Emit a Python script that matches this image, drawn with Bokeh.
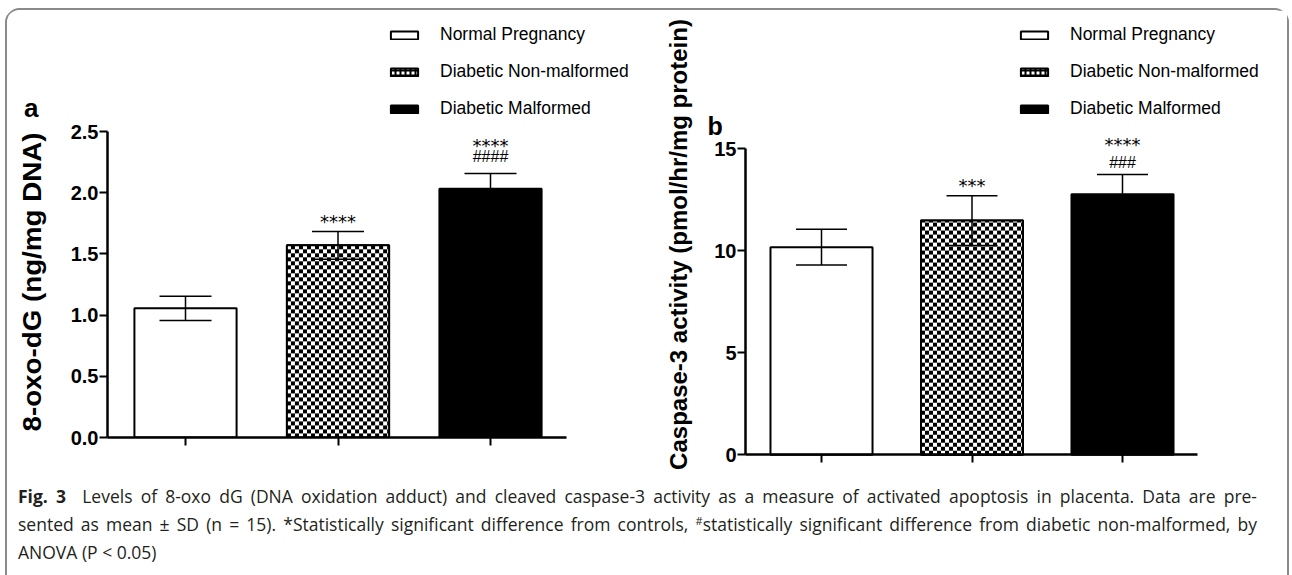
import numpy as np
from bokeh.plotting import figure
from bokeh.models import (ColumnDataSource, Range1d, FixedTicker, NumeralTickFormatter,
                          Whisker, TeeHead, Legend, LegendItem, Label, Div, Spacer)
from bokeh.layouts import row, column
from bokeh.core.properties import value
from bokeh.embed import file_html
from bokeh.resources import INLINE

# ---------------- data ----------------
groups = ["Normal Pregnancy", "Diabetic Non-malformed", "Diabetic Malformed"]

oxo_mean = [1.055, 1.57, 2.033]
oxo_sd = [0.10, 0.113, 0.123]
oxo_stars = ["", "****", "****"]
oxo_hashes = ["", "", "####"]
oxo_ticks = [0.0, 0.5, 1.0, 1.5, 2.0, 2.5]
oxo_label = "8-oxo-dG (ng/mg DNA)"

casp_mean = [10.17, 11.47, 12.76]
casp_sd = [0.87, 1.22, 0.97]
casp_stars = ["", "***", "****"]
casp_hashes = ["", "", "###"]
casp_ticks = [0, 5, 10, 15]
casp_label = "Caspase-3 activity (pmol/hr/mg protein)"

caption_lines = [
    "<b>Fig.&nbsp;3</b>&nbsp;&nbsp;Levels of 8-oxo dG (DNA oxidation adduct) and cleaved caspase-3 activity as a measure of activated apoptosis in placenta. Data are pre-",
    "sented as mean \u00b1 SD (n = 15). *Statistically significant difference from controls, "
    "<span style=\"position:relative;top:-6px;font-size:11px;\">#</span>statistically significant difference from diabetic non-malformed, by",
    "ANOVA (P &lt; 0.05)",
]

# ---------------- styles ----------------
fills = ["white", "white", "black"]
checkered = [False, True, False]
FONT = "Liberation Sans"
FIG_H = 472


def checker_image(nx, ny, cell=4):
    j = np.arange(nx)[None, :] // cell
    i = np.arange(ny)[:, None] // cell
    return np.where((i + j) % 2 == 0, 0xFF000000, 0xFFFFFFFF).astype(np.uint32)


def make_panel(width, border_left, border_right, border_bottom, x_range, y_range,
               px_x, px_y, y_axis_at, x_axis_at, x_axis_end,
               means, sds, ticks, tick_fmt, stars, hashes,
               star_gap, star_gap_stacked, hash_gap, legend_xy, bar_width, head, labels):
    p = figure(width=width, height=FIG_H,
               x_range=Range1d(*x_range), y_range=Range1d(*y_range),
               output_backend="svg", toolbar_location=None,
               min_border_left=border_left, min_border_right=border_right,
               min_border_top=2, min_border_bottom=border_bottom,
               outline_line_color=None, background_fill_color="white",
               border_fill_color="white")
    try:
        p.frame_align = False
    except Exception:
        pass
    p.grid.visible = False

    xs = list(range(1, len(groups) + 1))
    legend_renderers = []
    for i in range(len(groups)):
        src = ColumnDataSource(dict(x=[xs[i]], top=[means[i]]))
        kw = dict(fill_color=fills[i], line_color="black", line_width=2)
        if checkered[i]:
            kw.update(hatch_pattern="cross", hatch_color="black", hatch_scale=5,
                      hatch_weight=2, hatch_alpha=1.0)
        r = p.vbar(x="x", top="top", bottom=0, width=bar_width, source=src, **kw)
        legend_renderers.append(r)
        if checkered[i]:
            nx = int(round(bar_width * px_x))
            ny = int(round(means[i] * px_y))
            p.image_rgba(image=[checker_image(nx, ny)], x=xs[i] - bar_width / 2, y=0,
                         dw=bar_width, dh=means[i])
            p.vbar(x="x", top="top", bottom=0, width=bar_width, source=src,
                   fill_color=None, line_color="black", line_width=2)

    upper = [m + s for m, s in zip(means, sds)]
    lower = [m - s for m, s in zip(means, sds)]
    wsrc = ColumnDataSource(dict(x=xs, upper=upper, lower=lower))
    wh = Whisker(base="x", upper="upper", lower="lower", source=wsrc,
                 line_width=1.5, line_color="black", level="overlay",
                 upper_head=TeeHead(size=head, line_width=1.5, line_color="black"),
                 lower_head=TeeHead(size=head, line_width=1.5, line_color="black"))
    p.add_layout(wh)

    s_off = [-(star_gap_stacked if h else star_gap) for h in hashes]
    ssrc = ColumnDataSource(dict(x=xs, y=upper, t=stars, off=s_off))
    p.text(x="x", y="y", text="t", source=ssrc, y_offset="off",
           text_font=value("DejaVu Sans"), text_font_size="18px",
           text_align="center", text_baseline="middle", text_color="black")
    hsrc = ColumnDataSource(dict(x=xs, y=upper, t=hashes))
    p.text(x="x", y="y", text="t", source=hsrc, y_offset=-hash_gap,
           text_font=value(FONT), text_font_size="16px",
           text_align="center", text_baseline="middle", text_color="black")

    # y axis
    ya = p.yaxis[0]
    ya.ticker = FixedTicker(ticks=ticks)
    ya.formatter = NumeralTickFormatter(format=tick_fmt)
    ya.bounds = (ticks[0], ticks[-1])
    ya.axis_line_width = 2.5
    ya.major_tick_line_width = 2
    ya.major_tick_out = 8
    ya.major_tick_in = 0
    ya.minor_tick_line_color = None
    ya.major_label_text_font = FONT
    ya.major_label_text_font_style = "bold"
    ya.major_label_text_font_size = "20px"
    ya.major_label_text_color = "black"
    ya.major_label_standoff = 1
    if y_axis_at is not None:
        ya.fixed_location = y_axis_at

    # x axis
    xa = p.xaxis[0]
    xa.ticker = FixedTicker(ticks=xs)
    xa.major_label_overrides = {x: "" for x in xs}
    xa.major_label_text_font_size = "0px"
    xa.major_label_standoff = 0
    xa.bounds = (y_axis_at if y_axis_at is not None else x_range[0], x_axis_end)
    xa.axis_line_width = 2.5
    xa.major_tick_line_width = 2
    xa.major_tick_out = 8
    xa.major_tick_in = 0
    xa.minor_tick_line_color = None
    if x_axis_at is not None:
        xa.fixed_location = x_axis_at

    for (text, lx, ly, angle, size) in labels:
        p.add_layout(Label(x=lx, y=ly, x_units="screen", y_units="screen",
                           text=text, angle=angle, angle_units="deg",
                           text_align="center" if angle else "left",
                           text_baseline="middle" if angle else "alphabetic",
                           text_font=FONT, text_font_style="bold", text_font_size=size,
                           text_color="black"))

    legend = Legend(items=[LegendItem(label=groups[i], renderers=[legend_renderers[i]])
                           for i in range(len(groups))],
                    location=legend_xy, glyph_width=34, glyph_height=10,
                    label_standoff=19, spacing=16, padding=0, margin=0,
                    label_height=20, label_text_font=FONT,
                    label_text_font_size="17.5px", label_text_color="black",
                    background_fill_alpha=0, border_line_alpha=0)
    p.add_layout(legend)
    return p


# Panel a: frame x 108..632, y 12..437 (page px)
pA = make_panel(width=572, border_left=47, border_right=0, border_bottom=45,
                x_range=(0.4885, 0.4885 + 525 / 152.5), y_range=(0, 425 / 122.4),
                px_x=152.5, px_y=122.4, y_axis_at=None, x_axis_at=None, x_axis_end=3.498,
                means=oxo_mean, sds=oxo_sd, ticks=oxo_ticks, tick_fmt="0.0",
                stars=oxo_stars, hashes=oxo_hashes,
                star_gap=10, star_gap_stacked=28, hash_gap=17,
                legend_xy=(280, 318), bar_width=0.67, head=52, labels=[])

# Panel b: frame x 664..1276, y 12..470; axes fixed at x=0.495 and y=0
pB = make_panel(width=655, border_left=32, border_right=11, border_bottom=12,
                x_range=(1 - 157 / 150.5, 1 - 157 / 150.5 + 612 / 150.5),
                y_range=(-(470 - 454.3) / 20.42, (454.3 - 12) / 20.42),
                px_x=150.5, px_y=20.42, y_axis_at=1 - 76 / 150.5, x_axis_at=0, x_axis_end=3.498,
                means=casp_mean, sds=casp_sd, ticks=casp_ticks, tick_fmt="0",
                stars=casp_stars, hashes=casp_hashes,
                star_gap=10, star_gap_stacked=30, hash_gap=12,
                legend_xy=(353, 351), bar_width=0.678, head=51,
                labels=[(casp_label, 14, 226, 90, "24px"), ("b", 43, 345, 0, "25px")])

# left-hand tag and axis title of panel a
divA = Div(text=(
    '<div style="position:relative;width:53px;height:472px;">'
    '<div style="position:absolute;left:17px;top:86px;font:bold 26px \'Liberation Sans\';line-height:25px;">a</div>'
    '<div style="position:absolute;left:25px;top:272px;white-space:nowrap;'
    'font:bold 25px \'Liberation Sans\';line-height:25px;'
    'transform:translate(-50%,-50%) rotate(-90deg) scaleX(1.11);">'
    + oxo_label + '</div></div>'),
    width=53, height=FIG_H, margin=0, styles={"overflow": "visible"})

line_style = "white-space:nowrap;text-align:justify;text-align-last:justify;height:28px;"
cap_html = ('<div style="font-family:\'Open Sans\';font-size:17.5px;line-height:28px;'
            'color:#231f20;padding-left:11px;width:1250px;">'
            + "".join('<div style="%s">%s</div>' % (line_style if i < len(caption_lines) - 1
                                                     else "white-space:nowrap;height:28px;", l)
                      for i, l in enumerate(caption_lines))
            + "</div>")
caption = Div(text=cap_html, width=1280, height=93, margin=0)

inner = column(row(divA, pA, pB), caption,
               styles={"background": "white",
                       "border-radius": "12px 12px 0 0",
                       "box-shadow": "-2px 0 0 0 #8a8a8a, 2px 0 0 0 #8a8a8a, 0 -2px 0 0 #8a8a8a"})
layout = column(Spacer(width=1292, height=10), row(Spacer(width=7, height=10), inner, Spacer(width=5, height=10)))

open("out.html", "w").write(file_html(layout, INLINE, title="Fig. 3"))
